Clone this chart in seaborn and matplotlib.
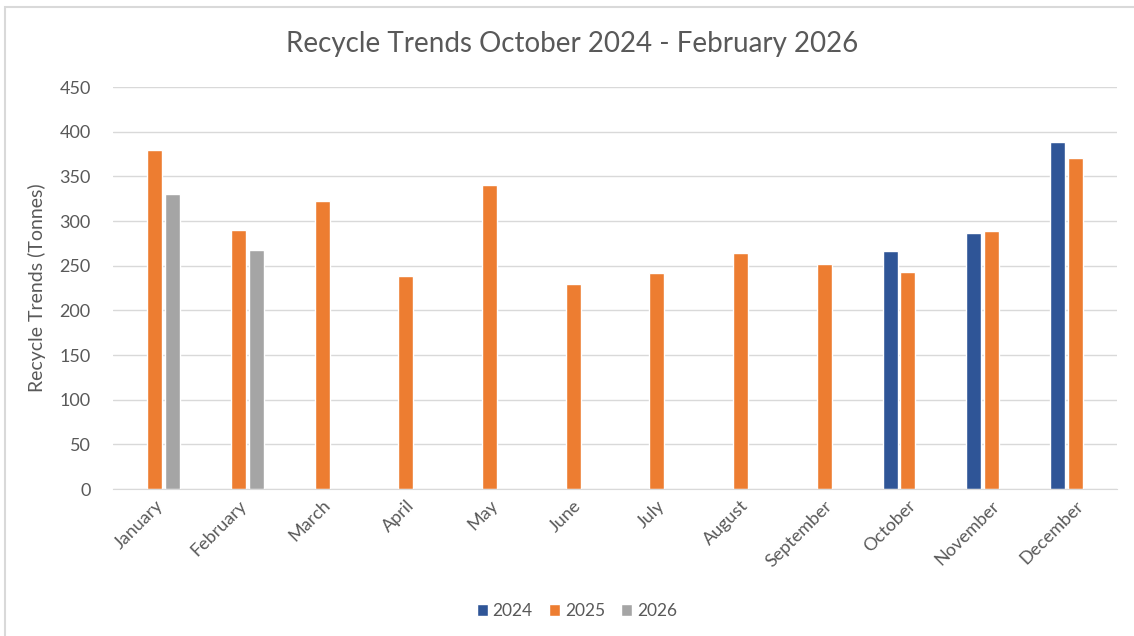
import pandas as pd
import matplotlib.pyplot as plt
import seaborn as sns
from matplotlib.patches import Rectangle

months = ['January', 'February', 'March', 'April', 'May', 'June', 'July',
          'August', 'September', 'October', 'November', 'December']
years = ['2024', '2025', '2026']

# tonnes per month, None = no data for that year
t2024 = [None, None, None, None, None, None, None, None, None, 266, 287, 388]
t2025 = [379, 290, 322, 238, 340, 230, 242, 264, 252, 243, 289, 370]
t2026 = [330, 267, None, None, None, None, None, None, None, None, None, None]

rows = []
for yr, vals in zip(years, [t2024, t2025, t2026]):
    for m, v in zip(months, vals):
        if v is not None:
            rows.append({'Month': m, 'Year': yr, 'Tonnes': v})
df = pd.DataFrame(rows)

colors = {'2024': '#2F5597', '2025': '#ED7D31', '2026': '#A5A5A5'}

sns.set_style('white')
plt.rcParams['font.family'] = ['Lato', 'DejaVu Sans']
text_col = '#595959'

fig = plt.figure(figsize=(11.34, 6.36), dpi=100)
ax = fig.add_axes([113 / 1134, 1 - 489 / 636, 1004 / 1134, 402 / 636])

sns.barplot(data=df, x='Month', y='Tonnes', hue='Year', order=months,
            hue_order=years, palette=colors, width=0.63, gap=0.14,
            saturation=1, ax=ax, legend=True)

ax.set_ylim(0, 450)
ax.set_yticks(range(0, 451, 50))
ax.set_xlim(-0.5, 11.5)
ax.yaxis.grid(True, color='#D9D9D9', linewidth=1)
ax.set_axisbelow(True)
for s in ['top', 'right', 'left']:
    ax.spines[s].set_visible(False)
ax.spines['bottom'].set_color('#D9D9D9')
ax.tick_params(axis='both', length=0, colors=text_col, labelsize=13)
ax.tick_params(axis='y', pad=16)
ax.tick_params(axis='x', pad=6)
plt.setp(ax.get_xticklabels(), rotation=45, ha='right', rotation_mode='anchor')
ax.set_xlabel('')
ax.set_ylabel('Recycle Trends (Tonnes)', color=text_col, fontsize=14, labelpad=10)

fig.text(572 / 1134, 1 - 44 / 636, 'Recycle Trends October 2024 - February 2026',
         color=text_col, fontsize=20, ha='center', va='center')

ax.legend(loc='center', bbox_to_anchor=(0.5 - 38 / 1004, -(611 - 489) / 402), ncol=3,
          frameon=False, fontsize=12.5, handlelength=0.62, handleheight=0.62,
          handletextpad=0.28, columnspacing=0.95, labelcolor=text_col)

# chart border
fig.patches.append(Rectangle((5 / 1134, -0.1), 1.2, 1.1 - 7 / 636,
                             transform=fig.transFigure, fill=False,
                             edgecolor='#D9D9D9', linewidth=1.5))

fig.savefig('out.png', dpi=100)
